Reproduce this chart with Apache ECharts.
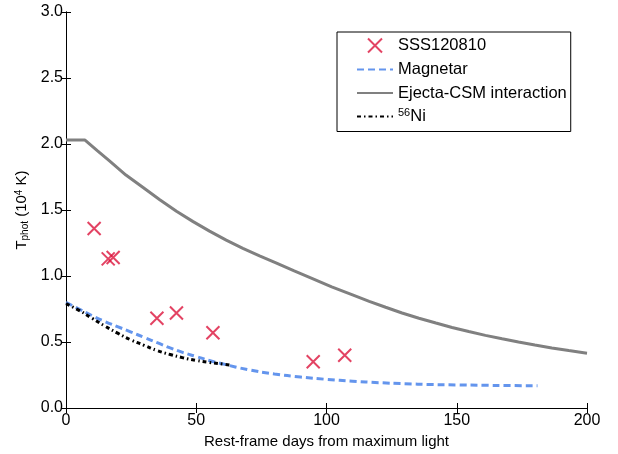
<!DOCTYPE html>
<html><head><meta charset="utf-8">
<script src="https://cdn.jsdelivr.net/npm/echarts@6/dist/echarts.min.js"></script>
<style>html,body{margin:0;padding:0;background:#fff}#c{width:618px;height:454px}</style>
</head><body><div id="c"></div>
<script>
const xTicks = [0, 50, 100, 150, 200];
const yTicks = [0, 0.5, 1.0, 1.5, 2.0, 2.5, 3.0];
const obsDays = [10.8, 16.2, 18.1, 34.9, 42.4, 56.4, 94.9, 107.0];
const obsTemp = [1.36, 1.13, 1.14, 0.68, 0.72, 0.57, 0.35, 0.40];
const magDays = [0, 5, 10, 15, 20, 25, 30, 35, 40, 45, 50, 55, 60, 70, 80, 90, 100, 110, 120, 130, 140, 150, 160, 170, 181];
const magTemp = [0.80, 0.75, 0.70, 0.655, 0.615, 0.575, 0.535, 0.495, 0.455, 0.42, 0.39, 0.36, 0.335, 0.29, 0.258, 0.235, 0.217, 0.203, 0.192, 0.184, 0.178, 0.175, 0.172, 0.170, 0.169];
const csmDays = [0, 7.3, 12, 16.8, 23, 29.6, 36, 42.4, 48.8, 55.1, 61.5, 67.9, 74.3, 80.6, 87.6, 94.6, 102, 110, 116.4, 122.7, 129, 135.5, 142, 148.2, 154.6, 161, 167.4, 173.7, 180, 186.5, 193, 200];
const csmTemp = [2.03, 2.03, 1.95, 1.87, 1.765, 1.67, 1.578, 1.49, 1.412, 1.34, 1.272, 1.21, 1.153, 1.10, 1.038, 0.98, 0.918, 0.857, 0.808, 0.763, 0.72, 0.68, 0.644, 0.61, 0.579, 0.55, 0.524, 0.50, 0.477, 0.455, 0.435, 0.415];
const niDays = [0, 5, 10, 15, 20, 25, 30, 35, 40, 45, 50, 55, 60, 63];
const niTemp = [0.79, 0.74, 0.68, 0.62, 0.565, 0.515, 0.475, 0.435, 0.405, 0.38, 0.36, 0.345, 0.333, 0.325];

const zip = (a, b) => a.map((v, i) => [v, b[i]]);
const font = 'Liberation Sans, Arial, Helvetica, sans-serif';
const tickAxisX = (pos, show) => ({
  type: 'value', position: pos, min: 0, max: 200, interval: 50,
  axisLine: {show: true, lineStyle: {color: '#000', width: 1}},
  axisTick: {show: true, inside: true, length: 5, lineStyle: {color: '#000'}},
  axisLabel: {show: show, color: '#000', fontSize: 16, fontFamily: font, margin: 5},
  splitLine: {show: false}
});
const tickAxisY = (pos, show) => ({
  type: 'value', position: pos, min: 0, max: 3, interval: 0.5,
  axisLine: {show: true, lineStyle: {color: '#000', width: 1}},
  axisTick: {show: true, inside: true, length: 5, lineStyle: {color: '#000'}},
  axisLabel: {show: show, color: '#000', fontSize: 16, fontFamily: font, margin: 3,
    formatter: v => v.toFixed(1)},
  splitLine: {show: false}
});
const xMain = Object.assign(tickAxisX('bottom', true), {
  name: 'Rest-frame days from maximum light', nameLocation: 'middle', nameGap: 26,
  nameTextStyle: {color: '#000', fontSize: 15, fontFamily: font}
});
const yMain = Object.assign(tickAxisY('left', true), {
  name: 'T{sub|phot} (10{sup|4} K)', nameLocation: 'middle', nameGap: 30, nameRotate: 90,
  nameTextStyle: {color: '#000', fontSize: 15, fontFamily: font,
    rich: {sub: {fontSize: 10, fontFamily: font, verticalAlign: 'bottom', padding: [6, 0, 0, 0]},
           sup: {fontSize: 10, fontFamily: font, verticalAlign: 'top', padding: [0, 0, 6, 0]}}}
});
const hideSym = {opacity: 0};
const chart = echarts.init(document.getElementById('c'));
chart.setOption({
  animation: false,
  backgroundColor: '#fff',
  grid: {left: 66, right: 31, top: 12, bottom: 45, containLabel: false},
  xAxis: [xMain, tickAxisX('top', false)],
  yAxis: [yMain, tickAxisY('right', false)],
  legend: {
    orient: 'vertical', left: 337, top: 32,
    padding: [4, 4, 6, 19], itemGap: 5.5, itemWidth: 36, itemHeight: 14,
    borderColor: '#000', borderWidth: 1, backgroundColor: '#fff',
    textStyle: {color: '#000', fontSize: 16.5, lineHeight: 18, fontFamily: font,
      rich: {sup: {fontSize: 11, fontFamily: font, verticalAlign: 'top', padding: [0, 0, 6, 0]}}},
    formatter: n => n === 'Ni' ? '{sup|56}Ni' : n,
    data: [
      {name: 'SSS120810'},
      {name: 'Magnetar', itemStyle: hideSym},
      {name: 'Ejecta-CSM interaction', itemStyle: hideSym},
      {name: 'Ni', itemStyle: hideSym}
    ]
  },
  series: [
    {name: 'Magnetar', type: 'line', data: zip(magDays, magTemp), symbol: 'none', smooth: true,
     lineStyle: {color: '#6495ED', width: 3, type: [7, 4]}, itemStyle: {color: '#6495ED'}, z: 3},
    {name: 'Ejecta-CSM interaction', type: 'line', data: zip(csmDays, csmTemp), symbol: 'none', smooth: false,
     lineStyle: {color: '#808080', width: 3}, itemStyle: {color: '#808080'}, z: 2},
    {name: 'Ni', type: 'line', data: zip(niDays, niTemp), symbol: 'none', smooth: true,
     lineStyle: {color: '#000', width: 3, type: [4, 3, 1.5, 3]}, itemStyle: {color: '#000'}, z: 4},
    {name: 'SSS120810', type: 'scatter', data: zip(obsDays, obsTemp),
     symbol: 'path://M0,0L10,10M10,0L0,10', symbolSize: 13,
     itemStyle: {color: 'none', borderColor: '#DC143C', borderWidth: 2}, z: 5}
  ]
});
</script></body></html>
